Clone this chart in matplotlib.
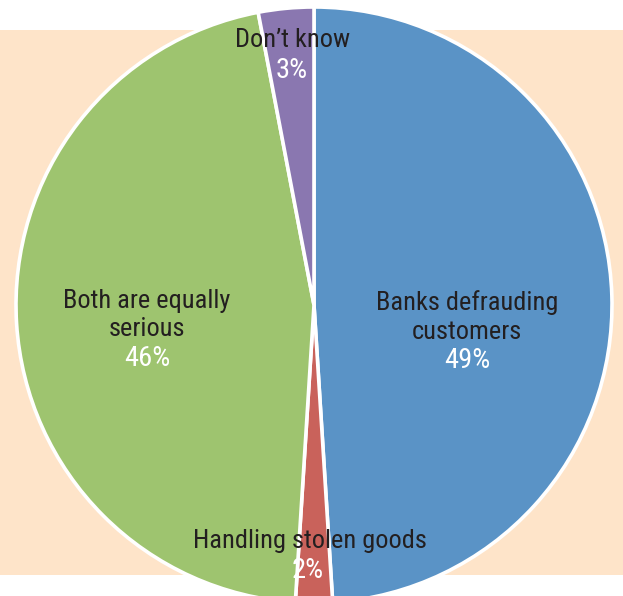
import matplotlib.pyplot as plt
from matplotlib.patches import Rectangle

labels = ["Banks defrauding\ncustomers", "Handling stolen goods", "Both are equally\nserious", "Don\u2019t know"]
values = [49, 2, 46, 3]
colors = ["#5A93C6", "#C9625B", "#9EC46F", "#8A77B0"]

fam = ["Roboto Condensed", "Archivo Narrow", "DejaVu Sans"]

W, H = 623, 596
fig = plt.figure(figsize=(W / 100, H / 100), dpi=100)
ax = fig.add_axes([0, 0, 1, 1])

# peach band behind the pie
ax.add_patch(Rectangle((0, H - 575), W, 545, facecolor="#FEE4C9", edgecolor="none", zorder=0))

cx, cy, r = 314, H - 305, 298
wedges, _ = ax.pie(values, colors=colors, startangle=90, counterclock=False,
                   center=(cx, cy), radius=r, frame=True,
                   wedgeprops=dict(edgecolor="white", linewidth=2.6))
ax.set_xlim(0, W)
ax.set_ylim(0, H)
ax.set_aspect("equal")
ax.axis("off")

# label positions (image pixel coords)
name_pos = [(467, 317), (310, 541), (147, 315), (293, 40)]
pct_pos = [(467, 361), (308, 570), (147, 358), (292, 70)]
for lab, v, (nx, ny), (px, py) in zip(labels, values, name_pos, pct_pos):
    ax.text(nx, H - ny, lab, ha="center", va="center", fontsize=19, family=fam,
            color="#231F20", linespacing=1.22, zorder=5)
    ax.text(px, H - py, f"{v}%", ha="center", va="center", fontsize=20.5, family=fam,
            color="white", zorder=5)

fig.savefig("out.png", dpi=100)
